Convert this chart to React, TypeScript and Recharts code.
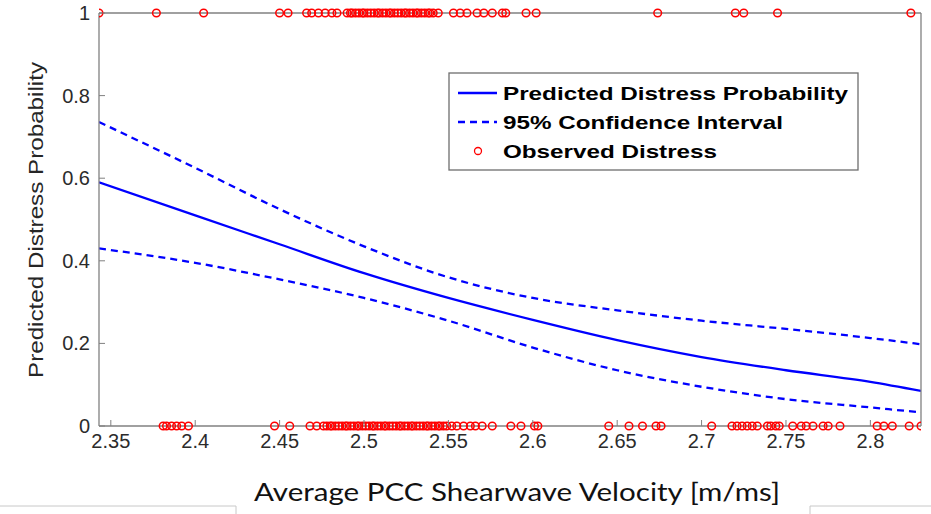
import { ComposedChart, Line, Scatter, XAxis, YAxis } from 'recharts'

// x positions of the observed cases
const distressed = [
  2.343, 2.377, 2.405, 2.45, 2.455, 2.466, 2.469, 2.473, 2.477, 2.481, 2.484,
  2.49, 2.492, 2.493, 2.495, 2.497, 2.499, 2.5, 2.502, 2.504, 2.506, 2.508, 2.509,
  2.511, 2.513, 2.515, 2.516, 2.518, 2.52, 2.522, 2.524, 2.525, 2.527, 2.529,
  2.531, 2.532, 2.534, 2.536, 2.538, 2.539, 2.541, 2.544, 2.553, 2.557, 2.561,
  2.567, 2.571, 2.576, 2.582, 2.584, 2.596, 2.602, 2.674, 2.72, 2.725, 2.745, 2.824,
]
const notDistressed = [
  2.381, 2.383, 2.386, 2.389, 2.392, 2.396, 2.447, 2.456, 2.468, 2.472, 2.476,
  2.478, 2.48, 2.481, 2.483, 2.485, 2.487, 2.489, 2.49, 2.492, 2.494, 2.496,
  2.497, 2.499, 2.501, 2.503, 2.505, 2.506, 2.508, 2.51, 2.512, 2.513, 2.515,
  2.517, 2.519, 2.521, 2.522, 2.524, 2.526, 2.528, 2.529, 2.531, 2.533, 2.535,
  2.537, 2.538, 2.54, 2.542, 2.544, 2.545, 2.547, 2.549, 2.552, 2.555, 2.559,
  2.563, 2.566, 2.57, 2.576, 2.587, 2.593, 2.601, 2.603, 2.645, 2.657, 2.665,
  2.673, 2.676, 2.706, 2.718, 2.721, 2.724, 2.727, 2.73, 2.733, 2.739, 2.741,
  2.744, 2.746, 2.754, 2.759, 2.762, 2.766, 2.772, 2.775, 2.782, 2.804, 2.808,
  2.813, 2.823, 2.83,
]

const velocity = [2.343, 2.4, 2.45, 2.5, 2.55, 2.6, 2.65, 2.7, 2.75, 2.8, 2.83]
const predicted = [0.59, 0.51, 0.44, 0.37, 0.31, 0.257, 0.208, 0.167, 0.135, 0.107, 0.085]
const upperCI = [0.736, 0.625, 0.525, 0.435, 0.36, 0.31, 0.28, 0.255, 0.235, 0.213, 0.198]
const lowerCI = [0.43, 0.395, 0.355, 0.31, 0.255, 0.19, 0.135, 0.095, 0.065, 0.045, 0.033]

const xTicks = [2.35, 2.4, 2.45, 2.5, 2.55, 2.6, 2.65, 2.7, 2.75, 2.8]
const yTicks = [0, 0.2, 0.4, 0.6, 0.8, 1]

const curve = velocity.map((x, i) => ({ x, p: predicted[i], hi: upperCI[i], lo: lowerCI[i] }))
const observed = [
  ...distressed.map((x) => ({ x, y: 1 })),
  ...notDistressed.map((x) => ({ x, y: 0 })),
]

const GRAY = '#808080'
const FONT = '"Liberation Sans", Arial, sans-serif'
const BLUE = '#0000ff'

const BottomTick = ({ x, y, payload }: any) => (
  <g>
    <line x1={x} y1={y} x2={x} y2={y - 6} stroke={GRAY} />
    <text x={x} y={y + 22} textAnchor="middle" fontSize={20} fontFamily={FONT} fill="#2b2b2b">
      {String(payload.value)}
    </text>
  </g>
)
const TopTick = ({ x, y }: any) => <line x1={x} y1={y} x2={x} y2={y + 6} stroke={GRAY} />
const LeftTick = ({ x, y, payload }: any) => (
  <g>
    <line x1={x} y1={y} x2={x + 6} y2={y} stroke={GRAY} />
    <text x={x - 9} y={y} dy="0.35em" textAnchor="end" fontSize={20} fontFamily={FONT} fill="#2b2b2b">
      {String(payload.value)}
    </text>
  </g>
)
const RightTick = ({ x, y }: any) => <line x1={x} y1={y} x2={x - 6} y2={y} stroke={GRAY} />

const ring = (props: any) => (
  <circle cx={props.cx} cy={props.cy} r={3.8} fill="none" stroke="#ff0000" strokeWidth={1.5} />
)

export default function App() {
  return (
    <div style={{ position: 'absolute', left: 0, top: 0, width: 931, height: 514, background: '#fff' }}>
      <ComposedChart width={931} height={514} margin={{ top: 8, right: 0, bottom: 58, left: 0 }}>
        <XAxis
          dataKey="x"
          type="number"
          domain={[2.343, 2.83]}
          ticks={xTicks}
          allowDataOverflow
          height={30}
          tickSize={0}
          tickMargin={0}
          tick={BottomTick}
          axisLine={{ stroke: GRAY, strokeWidth: 1.3 }}
        />
        <XAxis
          xAxisId="top"
          orientation="top"
          type="number"
          domain={[2.343, 2.83]}
          ticks={xTicks}
          allowDataOverflow
          height={5}
          tickSize={0}
          tickMargin={0}
          tick={TopTick}
          axisLine={{ stroke: GRAY, strokeWidth: 1.3 }}
        />
        <YAxis
          type="number"
          domain={[0, 1]}
          ticks={yTicks}
          width={99}
          tickSize={0}
          tickMargin={0}
          tick={LeftTick}
          axisLine={{ stroke: GRAY, strokeWidth: 1.3 }}
        />
        <YAxis
          yAxisId="right"
          orientation="right"
          type="number"
          domain={[0, 1]}
          ticks={yTicks}
          width={10}
          tickSize={0}
          tickMargin={0}
          tick={RightTick}
          axisLine={{ stroke: GRAY, strokeWidth: 1.3 }}
        />
        <Line data={curve} dataKey="hi" type="monotone" stroke={BLUE} strokeWidth={2.3} strokeDasharray="7 5" dot={false} isAnimationActive={false} />
        <Line data={curve} dataKey="lo" type="monotone" stroke={BLUE} strokeWidth={2.3} strokeDasharray="7 5" dot={false} isAnimationActive={false} />
        <Line data={curve} dataKey="p" type="monotone" stroke={BLUE} strokeWidth={2.3} dot={false} isAnimationActive={false} />
        <Scatter data={observed} dataKey="y" shape={ring} isAnimationActive={false} />
      </ComposedChart>

      <svg width={931} height={514} style={{ position: 'absolute', left: 0, top: 0, pointerEvents: 'none' }}>
        <text
          transform="translate(36,220) rotate(-90)"
          textAnchor="middle"
          dy="0.35em"
          fontSize={21}
          fontFamily={FONT}
          fill="#262626"
          textLength={316}
          lengthAdjust="spacingAndGlyphs"
        >
          Predicted Distress Probability
        </text>
        <text x={517} y={501} textAnchor="middle" fontSize={25} fontFamily="Lato, 'Open Sans', sans-serif" fill="#111" textLength={526} lengthAdjust="spacingAndGlyphs">
          Average PCC Shearwave Velocity [m/ms]
        </text>

        <rect x={449} y={73} width={409} height={97} fill="#fff" stroke="#6e6e6e" strokeWidth={1.3} />
        <line x1={458} y1={93} x2={497} y2={93} stroke={BLUE} strokeWidth={2.3} />
        <line x1={458} y1={122} x2={497} y2={122} stroke={BLUE} strokeWidth={2.3} strokeDasharray="7 5" />
        <circle cx={478} cy={151} r={3.5} fill="none" stroke="#ff0000" strokeWidth={1.3} />
        <g fontFamily={FONT} fontWeight="bold" fontSize={19} fill="#000">
          <text x={503} y={93} dy="0.35em" textLength={345} lengthAdjust="spacingAndGlyphs">Predicted Distress Probability</text>
          <text x={503} y={122} dy="0.35em" textLength={280} lengthAdjust="spacingAndGlyphs">95% Confidence Interval</text>
          <text x={503} y={151} dy="0.35em" textLength={214} lengthAdjust="spacingAndGlyphs">Observed Distress</text>
        </g>

        <line x1={0} y1={506} x2={236} y2={506} stroke="#c8c8c8" />
        <line x1={236} y1={506} x2={236} y2={514} stroke="#c8c8c8" />
        <line x1={810} y1={506} x2={931} y2={506} stroke="#c8c8c8" />
        <line x1={810} y1={506} x2={810} y2={514} stroke="#c8c8c8" />
      </svg>
    </div>
  )
}
